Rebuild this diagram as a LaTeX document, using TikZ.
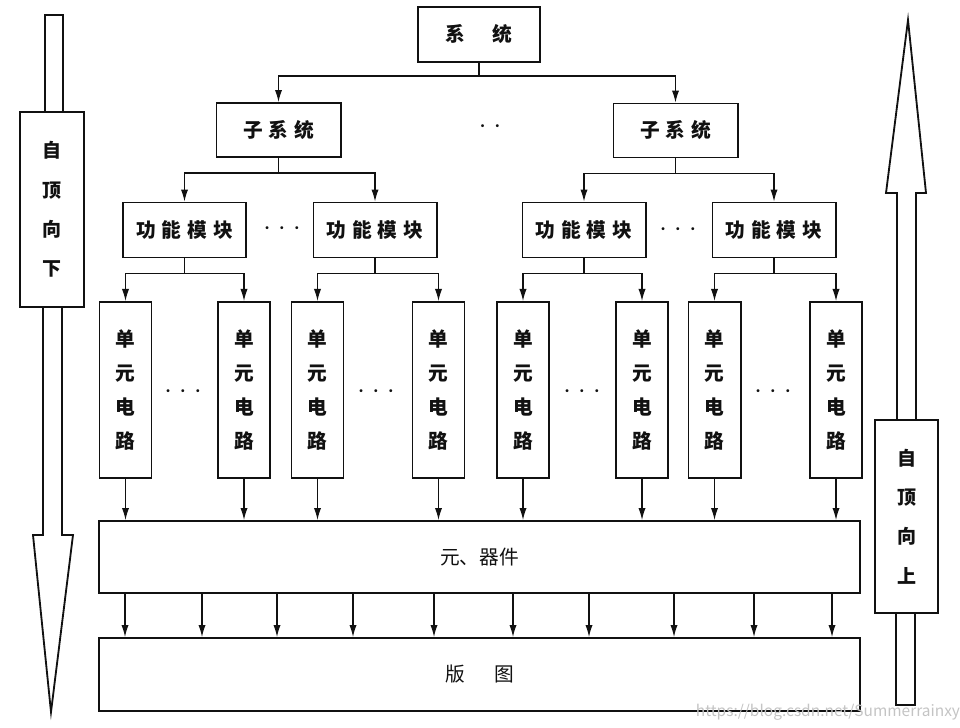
\documentclass[tikz,border=0pt]{standalone}
\usepackage{fontspec}
\setmainfont{Noto Sans CJK SC}
\usepackage{xcolor}
\usepackage{tikz}
\usetikzlibrary{arrows.meta,positioning}
\definecolor{ink}{HTML}{111111}
\definecolor{wmark}{HTML}{C4C4C4}
\newcommand{\chgap}{\hspace{0.3em}}
\newcommand{\dotgap}{\hspace{0.6pt}}
\tikzset{
  box/.style={draw=ink,line width=1.4pt,fill=white,inner sep=0pt,align=center,text=ink,font=\fontsize{14}{16}\selectfont\bfseries},
  sysbox/.style={box,minimum width=3.05cm,minimum height=1.375cm},
  subbox/.style={box,minimum width=3.1cm,minimum height=1.35cm},
  modbox/.style={box,minimum width=3.075cm,minimum height=1.375cm},
  unitbox/.style={box,minimum width=1.3cm,minimum height=4.4cm,font=\fontsize{14}{24}\selectfont\bfseries},
  widebox/.style={box,minimum width=19.025cm,minimum height=1.8cm,font=\fontsize{14}{16}\selectfont},
  sidebox/.style={box,minimum width=1.6cm,minimum height=4.85cm,font=\fontsize{13.5}{28}\selectfont\bfseries},
  bigarrow/.style={draw=ink,line width=1.3pt,fill=white,line join=miter},
  arrow/.style={-{Latex[length=3mm,width=1.8mm]},line width=0.8pt,color=ink},
  conn/.style={line width=0.8pt,color=ink},
  dots/.style={font=\fontsize{10}{12}\selectfont,text=ink,inner sep=0pt},
  wm/.style={font=\fontsize{11}{13}\selectfont,text=wmark,inner sep=0pt},
}

\begin{document}
\begin{tikzpicture}[x=0.025cm,y=-0.025cm]
    \useasboundingbox (0,0) rectangle (960,728);
    % big side arrows
    \draw[bigarrow] (45,112) -- (45,15) -- (63,15) -- (63,112);
    \draw[bigarrow] (43,307) -- (43,535) -- (33,535) -- (51,712) -- (73,535) -- (62,535) -- (62,307);
    \draw[bigarrow] (897,420) -- (897,193) -- (886,193) -- (908,20) -- (926,193) -- (916,193) -- (916,420);
    \draw[bigarrow] (896,613) -- (896,705) -- (915,705) -- (915,613);
    \node[sidebox] (down) at (52,209.5) {自\\顶\\向\\下};
    \node[sidebox,minimum width=1.575cm,minimum height=4.825cm] (up) at (906.5,516.5) {自\\顶\\向\\上};

    % tree
    \node[sysbox] (sys) at (479,34.5) {系\hspace{1.4em}统};
    \node[subbox] (sub1) at (278.5,130) {子\chgap 系\chgap 统};
    \node[subbox] (sub2) at (675.5,130.5) {子\chgap 系\chgap 统};
    \node[dots] (dsub) at (490,128) {·\dotgap·};
    \foreach \n/\x in {1/184.5,2/375,3/584,4/774} {
      \node[modbox] (fm\n) at (\x,230) {功\chgap 能\chgap 模\chgap 块};
    }
    \node[dots] (dfm1) at (282,230) {·\dotgap·\dotgap·};
    \node[dots] (dfm2) at (678,231) {·\dotgap·\dotgap·};
    \foreach \n/\x in {1/125.5,2/244,3/317.5,4/438.5,5/523,6/642,7/714.5,8/836} {
      \node[unitbox] (u\n) at (\x,390) {单\\元\\电\\路};
    }
    \foreach \x in {183,376,582,773} {
      \node[dots] at (\x,393) {·\dotgap·\dotgap·};
    }
    \node[widebox] (comp) at (479.5,557) {元、器件};
    \node[widebox,minimum height=1.825cm] (lay) at (479.5,674.5) {版\hspace{1.5em}图};

    % connectors
    \draw[conn] (sys.south) -- ++(0,13) coordinate (sysfork);
    \draw[arrow] (sysfork) -| (sub1.north);
    \draw[arrow] (sysfork) -| (sub2.north);
    \draw[arrow] (sub1.south) -- ++(0,15) -| (fm1.north);
    \draw[arrow] (sub1.south) -- ++(0,15) -| (fm2.north);
    \draw[arrow] (sub2.south) -- ++(0,15) -| (fm3.north);
    \draw[arrow] (sub2.south) -- ++(0,15) -| (fm4.north);
    \foreach \m/\a/\b in {1/1/2,2/3/4,3/5/6,4/7/8} {
      \draw[arrow] (fm\m.south) -- ++(0,15) -| (u\a.north);
      \draw[arrow] (fm\m.south) -- ++(0,15) -| (u\b.north);
    }
    \foreach \n in {1,...,8} {
      \draw[arrow] (u\n.south) -- (u\n.south |- comp.north);
    }
    \foreach \x in {125,202,277,353,434,513,589,674,754,832} {
      \draw[arrow] (\x,0 |- comp.south) -- (\x,0 |- lay.north);
    }
    \node[wm] (url) at (828,712) {https://blog.csdn.net/Summerrainxy};
\end{tikzpicture}
\end{document}
